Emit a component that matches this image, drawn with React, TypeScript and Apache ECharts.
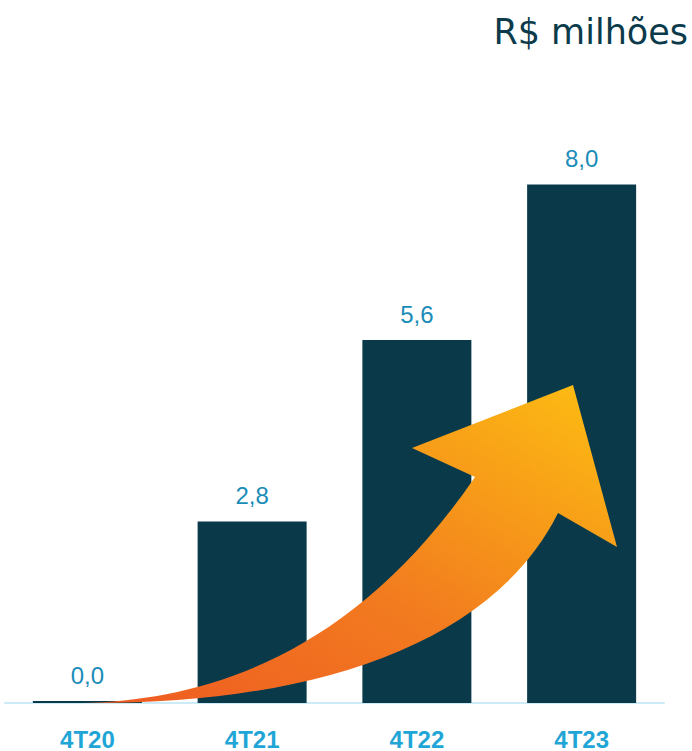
import React, { useEffect, useRef } from "react";
import * as echarts from "echarts";

const categories = ["4T20", "4T21", "4T22", "4T23"];
const values = [0.0, 2.8, 5.6, 8.0];
const unitTitle = "R$ milhões";

const ARROW_D =
  "M 83 703 C 200 700 350 660 475 477 L 412 448 L 573 385 L 617 547 L 558 513 C 490 650 300 705 83 703 Z";

let registered = false;
function ensureShape() {
  if (registered) return;
  echarts.graphic.registerShape("growthArrow", echarts.graphic.extendPath(ARROW_D, {}) as any);
  registered = true;
}

export default function App() {
  const ref = useRef<HTMLDivElement>(null);
  useEffect(() => {
    if (!ref.current) return;
    ensureShape();
    const chart = echarts.init(ref.current, undefined, { renderer: "svg" });
    chart.setOption({
      animation: false,
      grid: { left: 5, right: 28, top: 55, bottom: 48, containLabel: false },
      xAxis: {
        type: "category",
        data: categories,
        axisLine: { show: true, lineStyle: { color: "#cdeaf7", width: 2 } },
        axisTick: { show: false },
        axisLabel: {
          color: "#1fa6d6",
          fontFamily: "Liberation Sans, Arial, sans-serif",
          fontWeight: "bold",
          fontSize: 24,
          margin: 24,
        },
      },
      yAxis: {
        type: "value",
        min: 0,
        max: 10,
        show: false,
        splitLine: { show: false },
      },
      series: [
        {
          type: "bar",
          data: values,
          barWidth: 109,
          barMinHeight: 2,
          itemStyle: { color: "#0a3a4a" },
          label: {
            show: true,
            position: "top",
            distance: 14,
            color: "#1a8cb8",
            fontFamily: "Liberation Sans, Arial, sans-serif",
            fontSize: 24,
            formatter: (p: any) => Number(p.value).toFixed(1).replace(".", ","),
          },
          z: 2,
        },
      ],
      graphic: [
        {
          type: "growthArrow",
          x: 0,
          y: 0,
          z: 10,
          style: {
            fill: new echarts.graphic.LinearGradient(0, 1, 1, 0, [
              { offset: 0, color: "#ee5a22" },
              { offset: 0.45, color: "#f27b1f" },
              { offset: 1, color: "#fdbf12" },
            ]),
          },
        } as any,
        {
          type: "text",
          right: 4,
          top: 14,
          z: 10,
          style: {
            text: unitTitle,
            fill: "#0b3b4b",
            font: "35px 'DejaVu Sans', sans-serif",
          },
        },
      ],
    });
    return () => chart.dispose();
  }, []);
  return (
    <div
      ref={ref}
      style={{ position: "absolute", left: 0, top: 0, width: 692, height: 751 }}
    />
  );
}
